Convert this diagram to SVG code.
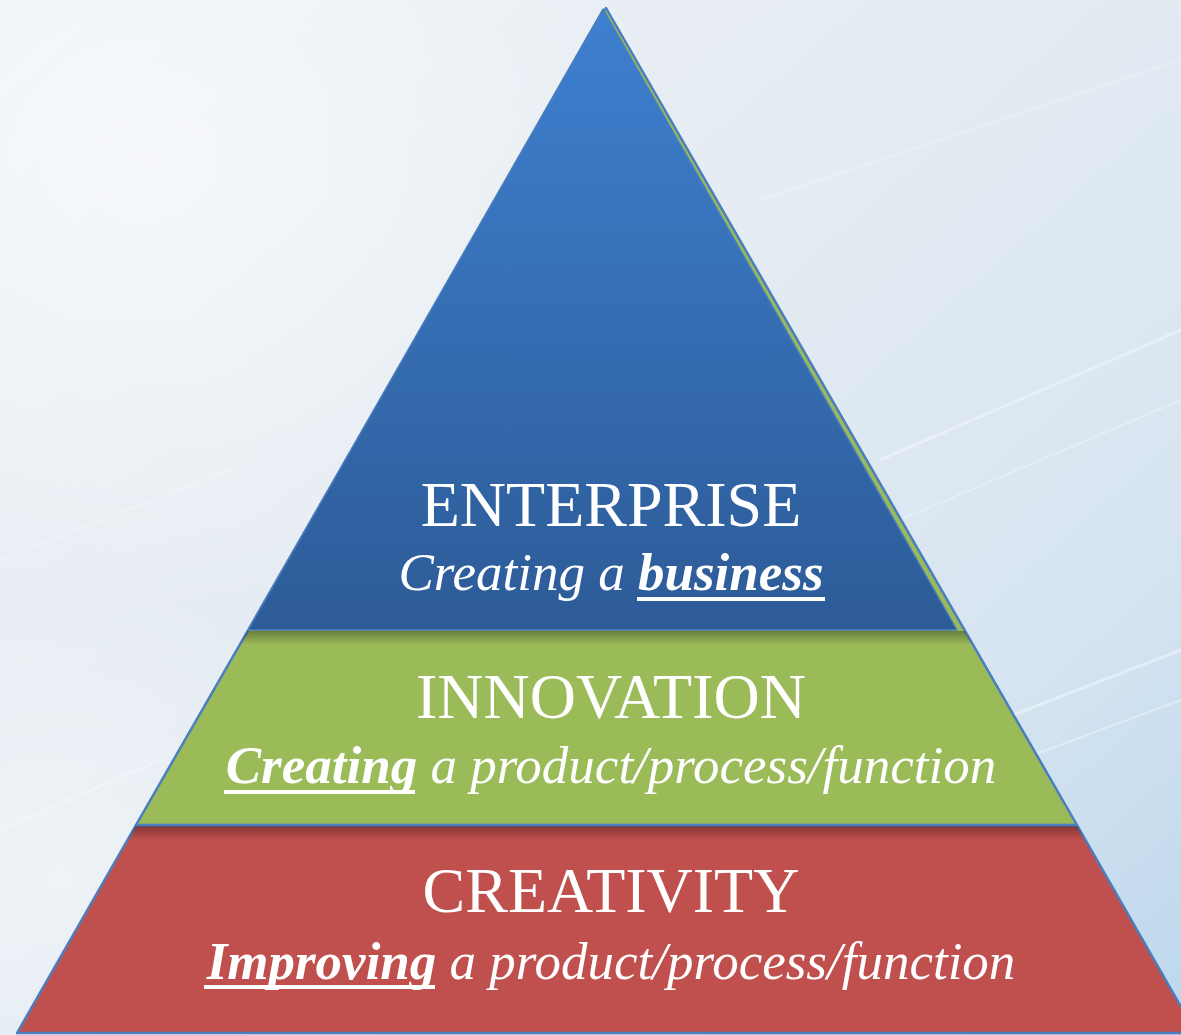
<svg xmlns="http://www.w3.org/2000/svg" width="1181" height="1035" viewBox="0 0 1181 1035">
  <defs>
    <linearGradient id="bg" x1="0" y1="0" x2="1" y2="1">
      <stop offset="0" stop-color="#eef2f6"/>
      <stop offset="0.45" stop-color="#e4ebf2"/>
      <stop offset="0.75" stop-color="#d6e5f1"/>
      <stop offset="1" stop-color="#bdd7ec"/>
    </linearGradient>
    <radialGradient id="glow" cx="0.12" cy="0.15" r="0.45">
      <stop offset="0" stop-color="#ffffff" stop-opacity="0.55"/>
      <stop offset="1" stop-color="#ffffff" stop-opacity="0"/>
    </radialGradient>
    <radialGradient id="glow2" cx="0.05" cy="0.85" r="0.3">
      <stop offset="0" stop-color="#ffffff" stop-opacity="0.4"/>
      <stop offset="1" stop-color="#ffffff" stop-opacity="0"/>
    </radialGradient>
    <linearGradient id="blueFill" x1="0" y1="0" x2="0" y2="1">
      <stop offset="0" stop-color="#3e80d0"/>
      <stop offset="1" stop-color="#2d5b97"/>
    </linearGradient>
    <linearGradient id="shade" x1="0" y1="0" x2="0" y2="1">
      <stop offset="0" stop-color="#000" stop-opacity="0.32"/>
      <stop offset="1" stop-color="#000" stop-opacity="0"/>
    </linearGradient>
    <clipPath id="greenClip"><polygon points="248,630 964,630 1077,825 136,825"/></clipPath>
    <clipPath id="redClip"><polygon points="136,825 1077,825 1196,1033 17,1033"/></clipPath>
    <style>
      .edge { stroke: #4a7ebf; stroke-width: 2.5; stroke-linejoin: round; }
      .t { font-family: "Liberation Serif", "Times New Roman", serif; fill: #ffffff; text-anchor: middle; }
      .h { font-size: 64px; }
      .s { font-size: 53px; font-style: italic; }
      .b { font-weight: bold; }
      .ul { fill: #ffffff; }
      .streak { stroke: #ffffff; stroke-linecap: round; fill: none; }
    </style>
  </defs>

  <g id="background">
    <rect x="0" y="0" width="1181" height="1035" fill="url(#bg)"/>
    <rect x="0" y="0" width="1181" height="1035" fill="url(#glow)"/>
    <rect x="0" y="0" width="1181" height="1035" fill="url(#glow2)"/>
    <path class="streak" d="M880 460 L1181 330" stroke-width="3" stroke-opacity="0.35"/>
    <path class="streak" d="M900 520 L1181 400" stroke-width="2" stroke-opacity="0.3"/>
    <path class="streak" d="M1000 720 L1181 650" stroke-width="3" stroke-opacity="0.4"/>
    <path class="streak" d="M1020 760 L1181 700" stroke-width="2" stroke-opacity="0.35"/>
    <path class="streak" d="M0 830 L160 760" stroke-width="2" stroke-opacity="0.3"/>
    <path class="streak" d="M0 560 L230 470" stroke-width="2" stroke-opacity="0.25"/>
    <path class="streak" d="M760 200 L1181 60" stroke-width="2" stroke-opacity="0.25"/>
  </g>

  <g id="creativity">
    <polygon class="edge" points="136,825 1077,825 1196,1033 17,1033" fill="#c0504d"/>
    <rect x="0" y="826" width="1181" height="14" fill="url(#shade)" clip-path="url(#redClip)"/>
    <text class="t h" x="611" y="912">CREATIVITY</text>
    <text class="t s" x="611" y="979"><tspan class="b">Improving</tspan> a product/process/function</text>
    <rect class="ul" x="204" y="985" width="231" height="4"/>
  </g>

  <g id="innovation">
    <polygon class="edge" points="606,8 1077,825 136,825" fill="#9bbb59"/>
    <rect x="0" y="631" width="1181" height="14" fill="url(#shade)" clip-path="url(#greenClip)"/>
    <text class="t h" x="611" y="718">INNOVATION</text>
    <text class="t s" x="611" y="783"><tspan class="b">Creating</tspan> a product/process/function</text>
    <rect class="ul" x="224" y="790" width="191" height="4"/>
  </g>

  <g id="enterprise">
    <polygon points="603,9 957,630 248,630" fill="url(#blueFill)" stroke="#4a7ebf" stroke-width="1.5" stroke-linejoin="round"/>
    <text class="t h" x="611" y="526">ENTERPRISE</text>
    <text class="t s" x="611" y="590">Creating a <tspan class="b">business</tspan></text>
    <rect class="ul" x="637" y="597" width="188" height="4"/>
  </g>

  <g id="connectors"/>
</svg>
